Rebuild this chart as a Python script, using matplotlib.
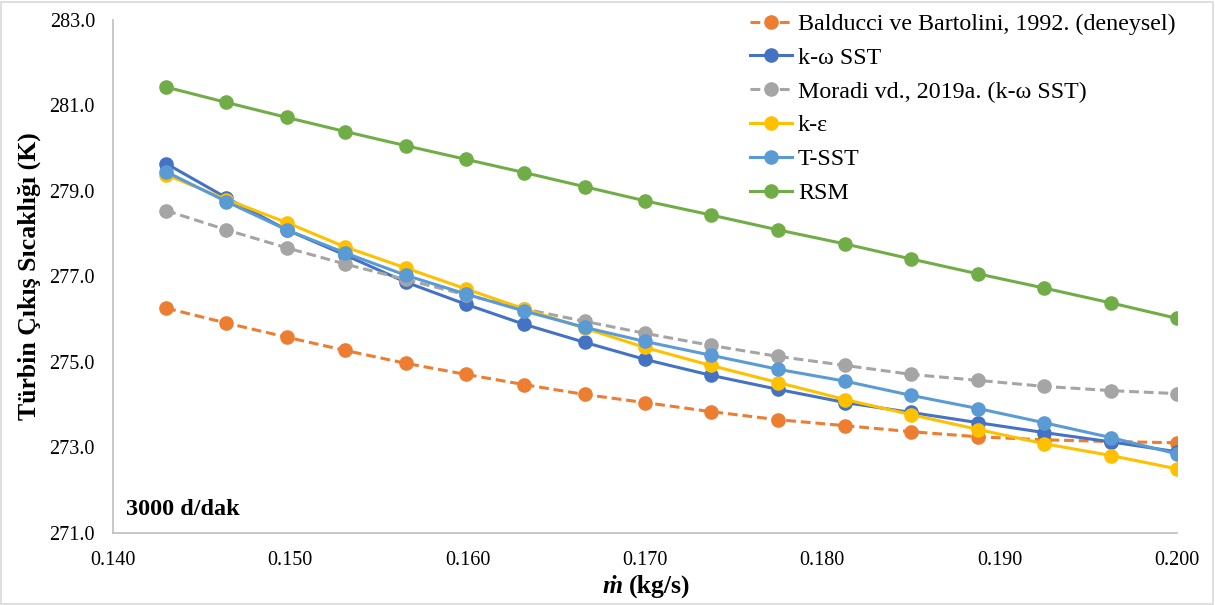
import numpy as np
import matplotlib.pyplot as plt
from matplotlib.patches import Rectangle

plt.rcParams['font.family'] = ['Liberation Serif', 'DejaVu Serif']

# mass flow rate (kg/s)
mdot = [0.1430, 0.1464, 0.1498, 0.1531, 0.1565, 0.1599, 0.1632, 0.1666, 0.1700,
        0.1737, 0.1775, 0.1813, 0.1850, 0.1888, 0.1925, 0.1963, 0.2000]

balducci = [276.26, 275.91, 275.58, 275.27, 274.97, 274.71, 274.47, 274.24, 274.05,
            273.84, 273.65, 273.51, 273.37, 273.25, 273.18, 273.14, 273.11]
kw_sst = [279.64, 278.84, 278.09, 277.50, 276.87, 276.35, 275.88, 275.46, 275.06,
          274.69, 274.36, 274.05, 273.82, 273.58, 273.35, 273.13, 272.90]
moradi = [278.54, 278.09, 277.67, 277.29, 276.93, 276.57, 276.24, 275.95, 275.67,
          275.39, 275.13, 274.92, 274.71, 274.57, 274.43, 274.33, 274.26]
k_eps = [279.38, 278.80, 278.26, 277.69, 277.20, 276.71, 276.24, 275.79, 275.34,
         274.92, 274.52, 274.12, 273.77, 273.42, 273.09, 272.81, 272.50]
t_sst = [279.45, 278.75, 278.09, 277.55, 277.03, 276.59, 276.19, 275.81, 275.48,
         275.16, 274.83, 274.55, 274.22, 273.91, 273.58, 273.23, 272.85]
rsm = [281.43, 281.07, 280.72, 280.39, 280.06, 279.74, 279.43, 279.10, 278.77,
       278.44, 278.09, 277.76, 277.41, 277.06, 276.73, 276.38, 276.02]

series = [
    ("Balducci ve Bartolini, 1992. (deneysel)", balducci, "#ED7D31", True),
    ("k-\u03c9 SST", kw_sst, "#4472C4", False),
    ("Moradi vd., 2019a. (k-\u03c9 SST)", moradi, "#A5A5A5", True),
    ("k-\u03b5", k_eps, "#FFC000", False),
    ("T-SST", t_sst, "#5B9BD5", False),
    ("RSM", rsm, "#70AD47", False),
]

fig = plt.figure(figsize=(12.15, 6.05), dpi=100)
ax = fig.add_axes([0.093, 0.119, 0.8757, 0.848])

for label, y, col, dashed in series:
    line, = ax.plot(mdot, y, color=col, lw=2.2, marker='o', markersize=9.5,
                    label=label)
    if dashed:
        line.set_dashes((3.2, 1.6))

ax.set_xlim(0.140, 0.200)
ax.set_ylim(271.0, 283.0)
ax.set_xticks(np.arange(0.140, 0.2001, 0.010))
ax.set_yticks(np.arange(271.0, 283.01, 2.0))
ax.xaxis.set_major_formatter(plt.FormatStrFormatter('%.3f'))
ax.yaxis.set_major_formatter(plt.FormatStrFormatter('%.1f'))
ax.tick_params(length=0, labelsize=14.5, pad=13)
for s in ('top', 'right'):
    ax.spines[s].set_visible(False)
for s in ('left', 'bottom'):
    ax.spines[s].set_color('#BFBFBF')
    ax.spines[s].set_linewidth(1.2)

ax.set_ylabel("Türbin Çıkış Sıcaklığı (K)", fontsize=18.5, fontweight='bold', labelpad=6)

# x label: bold italic m-dot + bold unit
fig.text(0.5125, 0.020, "\u1e41", fontsize=18.5, fontweight='bold', style='italic',
         ha='right', va='baseline')
fig.text(0.5180, 0.020, "(kg/s)", fontsize=18.5, fontweight='bold',
         ha='left', va='baseline')

ax.text(0.012, 0.045, "3000 d/dak", transform=ax.transAxes, fontsize=17.5,
        fontweight='bold', ha='left', va='center')

leg = ax.legend(loc='upper right', bbox_to_anchor=(1.0075, 1.032), frameon=False,
                fontsize=17.3, handlelength=1.75, handletextpad=0.25,
                labelspacing=0.5, borderaxespad=0)

fig.patches.append(Rectangle((0.001, 0.002), 0.997, 0.995, transform=fig.transFigure,
                             fill=False, edgecolor='#D9D9D9', lw=1.2))

fig.savefig("out.png", dpi=100)
